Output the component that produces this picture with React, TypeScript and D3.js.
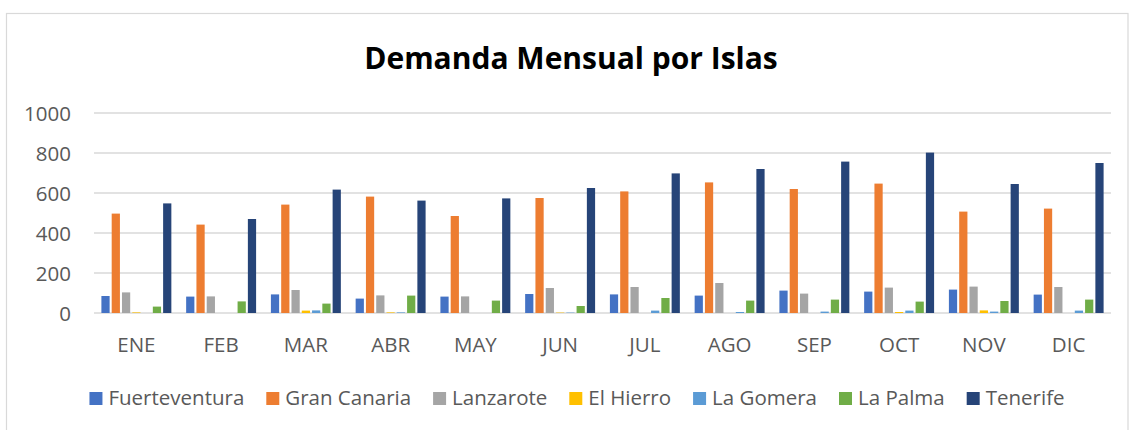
import React, { useEffect, useRef } from 'react';
import * as d3 from 'd3';

const months = ['ENE', 'FEB', 'MAR', 'ABR', 'MAY', 'JUN', 'JUL', 'AGO', 'SEP', 'OCT', 'NOV', 'DIC'];
const islands = ['Fuerteventura', 'Gran Canaria', 'Lanzarote', 'El Hierro', 'La Gomera', 'La Palma', 'Tenerife'];
const colors = ['#4472C4', '#ED7D31', '#A5A5A5', '#FFC000', '#5B9BD5', '#70AD47', '#264478'];

const fuerteventura = [85, 82, 93, 72, 82, 95, 93, 87, 112, 107, 117, 92];
const granCanaria = [497, 442, 542, 582, 485, 575, 608, 653, 620, 647, 507, 522];
const lanzarote = [103, 83, 115, 88, 83, 125, 130, 150, 97, 127, 132, 130];
const elHierro = [3, 0, 12, 3, 0, 2, 0, 0, 0, 5, 13, 0];
const laGomera = [0, 0, 13, 3, 0, 2, 12, 5, 7, 12, 7, 12];
const laPalma = [32, 58, 47, 87, 62, 35, 75, 62, 67, 57, 60, 67];
const tenerife = [548, 470, 617, 562, 573, 625, 698, 720, 757, 802, 645, 750];

const series = [fuerteventura, granCanaria, lanzarote, elHierro, laGomera, laPalma, tenerife];
const yTicks = [0, 200, 400, 600, 800, 1000];

const W = 1129;
const H = 430;

const App = () => {
  const svgRef = useRef<SVGSVGElement>(null);

  useEffect(() => {
    const svg = d3.select(svgRef.current);
    svg.selectAll('*').remove();

    const plot = { left: 94, right: 1111, top: 113, bottom: 313 };
    const font = '"Open Sans", sans-serif';
    const textColor = '#595959';

    // chart frame
    svg.append('rect')
      .attr('x', 6.5).attr('y', 13.5)
      .attr('width', 1121.5).attr('height', 440)
      .attr('fill', '#fff')
      .attr('stroke', '#d9d9d9')
      .attr('stroke-width', 1.2);

    // title
    svg.append('text')
      .attr('x', 571).attr('y', 69)
      .attr('text-anchor', 'middle')
      .attr('font-family', font)
      .attr('font-weight', 'bold')
      .attr('font-size', 30)
      .attr('fill', '#000')
      .text('Demanda Mensual por Islas');

    const x0 = d3.scaleBand().domain(months).range([plot.left, plot.right]).padding(0);
    const x1 = d3.scaleBand().domain(islands)
      .range([7.4, x0.bandwidth() - 7.4])
      .paddingInner(0.2).paddingOuter(0);
    const y = d3.scaleLinear().domain([0, 1000]).range([plot.bottom, plot.top]);

    // gridlines
    svg.append('g').selectAll('line')
      .data(yTicks)
      .enter().append('line')
      .attr('x1', plot.left).attr('x2', plot.right)
      .attr('y1', d => y(d)).attr('y2', d => y(d))
      .attr('stroke', '#d9d9d9')
      .attr('stroke-width', 1.3);

    // y labels
    svg.append('g').selectAll('text')
      .data(yTicks)
      .enter().append('text')
      .attr('x', 71).attr('y', d => y(d) + 7.5)
      .attr('text-anchor', 'end')
      .attr('font-family', font)
      .attr('font-size', 20.5)
      .attr('fill', textColor)
      .text(d => d);

    // bars
    const groups = svg.append('g').selectAll('g')
      .data(months)
      .enter().append('g')
      .attr('transform', d => `translate(${x0(d)},0)`);

    groups.selectAll('rect')
      .data((m, i) => islands.map((isl, k) => ({ isl, k, v: series[k][i] })))
      .enter().append('rect')
      .attr('x', d => x1(d.isl)!)
      .attr('y', d => y(d.v))
      .attr('width', x1.bandwidth())
      .attr('height', d => y(0) - y(d.v))
      .attr('fill', d => colors[d.k]);

    // x labels
    svg.append('g').selectAll('text')
      .data(months)
      .enter().append('text')
      .attr('x', d => x0(d)! + x0.bandwidth() / 2)
      .attr('y', 352)
      .attr('text-anchor', 'middle')
      .attr('font-family', font)
      .attr('font-size', 20.5)
      .attr('fill', textColor)
      .text(d => d);

    // legend
    const legend = svg.append('g');
    const items = legend.selectAll('g')
      .data(islands)
      .enter().append('g');
    items.append('rect')
      .attr('width', 13).attr('height', 13)
      .attr('y', -13)
      .attr('fill', (d, i) => colors[i]);
    items.append('text')
      .attr('x', 19)
      .attr('font-family', font)
      .attr('font-size', 20.5)
      .attr('fill', textColor)
      .text(d => d);

    let cx = 0;
    const gap = 22;
    items.each(function () {
      const g = d3.select(this);
      const tw = (g.select('text').node() as SVGTextElement).getComputedTextLength();
      g.attr('transform', `translate(${cx},405)`);
      cx += 19 + tw + gap;
    });
    const total = cx - gap;
    legend.attr('transform', `translate(${577 - total / 2},0)`);
  }, []);

  return (
    <div style={{ position: 'fixed', left: 0, top: 0 }}>
      <svg ref={svgRef} width={W} height={H} style={{ display: 'block' }} />
    </div>
  );
};

export default App;
